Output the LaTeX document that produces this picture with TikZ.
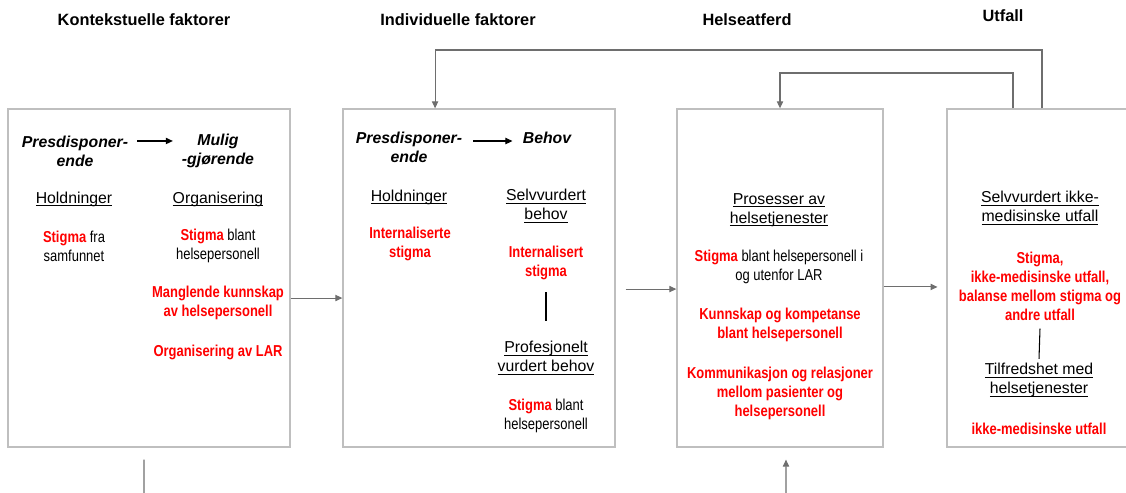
\documentclass[tikz,border=0pt]{standalone}
\usepackage{fontspec}
\setmainfont{Liberation Sans}
\newfontfamily\narrowsf[FakeStretch=0.82]{Liberation Sans}
\usepackage{xcolor}
\usetikzlibrary{arrows.meta}
\definecolor{boxgray}{HTML}{BFBFBF}
\definecolor{linegray}{HTML}{6E6E6E}
\newcommand{\redbf}[1]{\textcolor{red}{\bfseries #1}}
\newsavebox{\ulbox}
\newcommand{\uln}[1]{\sbox{\ulbox}{#1}\rlap{\rule[-1.6pt]{\wd\ulbox}{0.45pt}}\usebox{\ulbox}}

\begin{document}
\begin{tikzpicture}[x=0.02cm, y=-0.02cm,
    panel/.style={draw=boxgray, line width=0.8pt, minimum height=6.76cm, inner sep=0pt},
    ttl/.style={font=\bfseries\fontsize{9.3}{11}\selectfont, inner sep=0pt},
    kind/.style={font=\bfseries\itshape\fontsize{9}{10.8}\selectfont, align=center, inner sep=0pt},
    heading/.style={font=\fontsize{9}{10.8}\selectfont, align=center, inner sep=0pt},
    txt/.style={font=\narrowsf\fontsize{9}{10.8}\selectfont, align=center, inner sep=0pt},
    redtxt/.style={txt, text=red, font=\narrowsf\bfseries\fontsize{9}{10.8}\selectfont},
    flow/.style={draw=linegray, line width=0.6pt, -{Triangle[length=4pt,width=3.6pt]}},
    link/.style={draw=linegray, line width=0.6pt},
    minor/.style={black, line width=0.6pt, -{Triangle[length=4pt,width=3.6pt]}},
    divider/.style={black, line width=0.6pt}]
    \useasboundingbox (0,0) rectangle (1126,493);

    \node[ttl] (tkon) at (144,20) {Kontekstuelle faktorer};
    \node[ttl] (tind) at (458,20) {Individuelle faktorer};
    \node[ttl] (thel) at (747,20) {Helseatferd};
    \node[ttl] (tutf) at (1003,16) {Utfall};

    \node[panel, minimum width=5.64cm] (kontekst) at (149,278) {};
    \node[panel, minimum width=5.44cm] (individ) at (479,278) {};
    \node[panel, minimum width=4.12cm] (atferd) at (780,278) {};
    \node[panel, minimum width=3.8cm] (utfall) at (1042,278) {};

    \node[kind] (pre1) at (75,151) {Presdisponer-\\ende};
    \node[kind] (mul1) at (218,151) {Mulig\\-gjørende};
    \node[heading] (hold1) at (74,199) {\uln{Holdninger}};
    \node[heading] (org1) at (218,199) {\uln{Organisering}};
    \node[txt] (sam1) at (74,246) {\redbf{Stigma} fra\\samfunnet};
    \node[txt] (bla1) at (218,246) {\redbf{Stigma} blant\\helsepersonell};
    \node[redtxt] (man1) at (218,303) {Manglende kunnskap\\av helsepersonell};
    \node[redtxt] (lar1) at (218,352) {Organisering av LAR};
    \draw[minor, shorten <=5pt, shorten >=5pt] ([yshift=5.7pt]pre1.east) -- ([yshift=5.7pt]pre1.east -| mul1.west);

    \node[kind] (pre2) at (409,147) {Presdisponer-\\ende};
    \node[kind] (beh2) at (547,138) {Behov};
    \node[heading] (hold2) at (409,197) {\uln{Holdninger}};
    \node[redtxt] (int2) at (410,244) {Internaliserte\\stigma};
    \node[heading] (selv2) at (546,206) {\uln{Selvvurdert}\\\uln{behov}};
    \node[redtxt] (ist2) at (546,263) {Internalisert\\stigma};
    \node[heading] (prof2) at (546,358) {\uln{Profesjonelt}\\\uln{vurdert behov}};
    \node[txt] (bla2) at (546,416) {\redbf{Stigma} blant\\helsepersonell};
    \draw[minor, shorten <=6.2pt, shorten >=5.7pt] ([yshift=3.4pt]pre2.east) -- ([yshift=3.4pt]pre2.east -| beh2.west);
    \draw[divider] ([yshift=-6.8pt]ist2.south) -- ([yshift=11.4pt]prof2.north);

    \node[heading] (pro3) at (779,210) {\uln{Prosesser av}\\\uln{helsetjenester}};
    \node[txt] (sti3) at (779,267) {\redbf{Stigma} blant helsepersonell i\\og utenfor LAR};
    \node[redtxt] (kun3) at (780,325) {Kunnskap og kompetanse\\blant helsepersonell};
    \node[redtxt] (kom3) at (780,393) {Kommunikasjon og relasjoner\\mellom pasienter og\\helsepersonell};

    \node[heading] (selv4) at (1040,208) {\uln{Selvvurdert ikke-}\\\uln{medisinske utfall}};
    \node[redtxt] (sti4) at (1040,286) {Stigma,\\ikke-medisinske utfall,\\balanse mellom stigma og\\andre utfall};
    \node[heading] (til4) at (1039,380) {\uln{Tilfredshet med}\\\uln{helsetjenester}};
    \node[redtxt] (ikk4) at (1039,429) {ikke-medisinske utfall};
    \draw[divider] ([yshift=-4.5pt]sti4.south) -- ([yshift=2.3pt]til4.north);

    \draw[flow] ([yshift=-11.4pt]kontekst.east) -- ([yshift=-11.4pt]individ.west);
    \draw[flow, shorten <=5.7pt] ([yshift=-6.3pt]individ.east) -- ([yshift=-6.3pt]atferd.west);
    \draw[flow, shorten >=5pt] ([yshift=-5.1pt]atferd.east) -- ([yshift=-5.1pt]utfall.west);

    \coordinate (loopbig) at (700,50);
    \coordinate (loopsmall) at (900,73);
    \draw[flow] (utfall.north) |- (loopbig) -| ([xshift=-25pt]individ.north);
    \draw[flow] ([xshift=-16.5pt]utfall.north) |- (loopsmall) -| (atferd.north);

    \coordinate (kontfoot) at (144,495);
    \coordinate (atffoot) at (786,495);
    \draw[link] ([xshift=-2.84pt,yshift=-6.8pt]kontekst.south) -- (kontfoot);
    \draw[flow, shorten >=6.8pt] (atffoot) -- ([xshift=3.4pt]atferd.south);
\end{tikzpicture}
\end{document}
